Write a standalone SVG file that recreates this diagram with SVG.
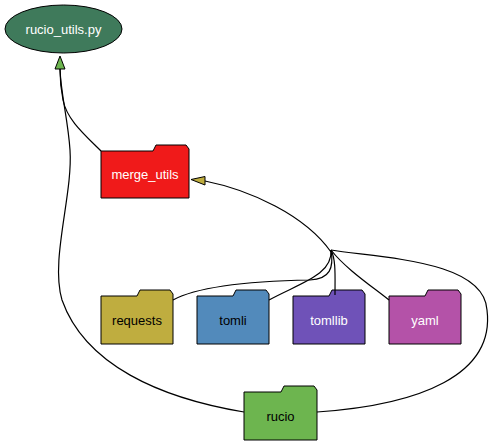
<svg xmlns="http://www.w3.org/2000/svg" width="494" height="445" viewBox="0 0 494 445">
<style>
.nd{stroke:#000;stroke-width:1}
.lb{font-family:"Liberation Sans",Arial,sans-serif;font-size:13px;text-anchor:middle}
.w{fill:#fff}
.k{fill:#000}
.ed{fill:none;stroke:#000;stroke-width:1.2}
.ah{stroke:#000;stroke-width:1}
</style>
<rect width="494" height="445" fill="#fff"/>
<g id="rucio_utils">
<ellipse class="nd" cx="63.5" cy="29" rx="58.5" ry="24" fill="#3f7a5b"/>
<text class="lb w" x="63.5" y="33.5">rucio_utils.py</text>
</g>
<g id="merge_utils">
<path class="nd" d="M101,151 L153,151 L156,145 L186,145 L189,149 L189,198 L101,198 Z" fill="#f01a1a"/>
<text class="lb w" x="145" y="179">merge_utils</text>
</g>
<g id="requests">
<path class="nd" d="M101,296 L137,296 L140,290 L170,290 L173,294 L173,344 L101,344 Z" fill="#bfad3f"/>
<text class="lb k" x="137" y="325">requests</text>
</g>
<g id="tomli">
<path class="nd" d="M197,296 L233,296 L236,290 L266,290 L269,294 L269,344 L197,344 Z" fill="#528abb"/>
<text class="lb k" x="233" y="325">tomli</text>
</g>
<g id="tomllib">
<path class="nd" d="M293,296 L329,296 L332,290 L362,290 L365,294 L365,344 L293,344 Z" fill="#6f52b8"/>
<text class="lb w" x="329" y="325">tomllib</text>
</g>
<g id="yaml">
<path class="nd" d="M389,296 L425,296 L428,290 L458,290 L461,294 L461,344 L389,344 Z" fill="#b452a8"/>
<text class="lb w" x="425" y="325">yaml</text>
</g>
<g id="rucio">
<path class="nd" d="M244,392 L281,392 L284,386 L314,386 L317,390 L317,440 L244,440 Z" fill="#6db54f"/>
<text class="lb k" x="280.5" y="421">rucio</text>
</g>
<g id="connectors">
<path class="ed" d="M101,151 C85,135 67,120 63,100 C61,90 60,80 60,69"/>
<path class="ed" d="M244,412 C160,398 85,365 62,300 C50,260 73,195 70,150 C68,120 61,95 60,69"/>
<polygon class="ah" points="60,56 55,69 65,69" fill="#6db54f"/>
<path class="ed" d="M205,181 C250,190 305,215 331,252"/>
<polygon class="ah" points="191,179.5 205,176.5 205,185" fill="#bfad3f"/>
<path class="ed" d="M173,300 C200,285 260,281 310,280 C330,279 334,268 331,250"/>
<path class="ed" d="M269,300 C300,283 333,275 331,250"/>
<path class="ed" d="M335,295 C335,275 336,260 331,250"/>
<path class="ed" d="M389,300 C370,285 345,268 331,250"/>
<path class="ed" d="M317,412 C420,405 495,375 487,310 C484,260 380,258 331,250"/>
</g>
</svg>
